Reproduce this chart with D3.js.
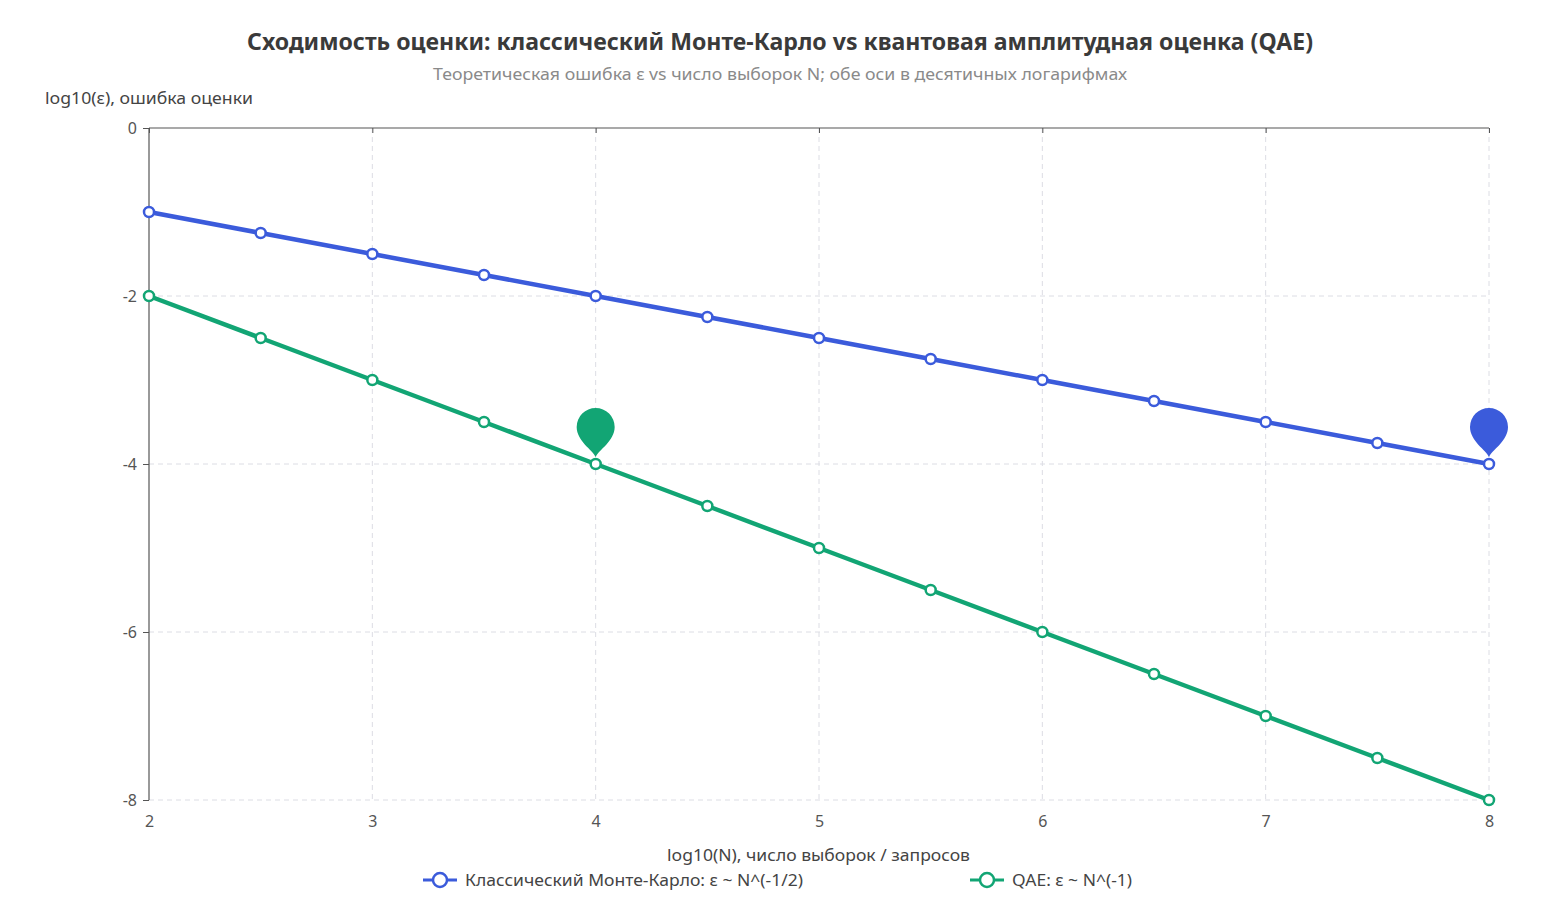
<!DOCTYPE html>
<html><head><meta charset="utf-8">
<script src="https://cdn.jsdelivr.net/npm/d3@7/dist/d3.min.js"></script>
<style>
html,body{margin:0;padding:0;background:#fff;}
svg{display:block;font-family:"Noto Sans","Open Sans",sans-serif;}
</style></head>
<body>
<svg id="chart" width="1560" height="907"></svg>
<script>
const xValues = [2, 2.5, 3, 3.5, 4, 4.5, 5, 5.5, 6, 6.5, 7, 7.5, 8];
const mcValues = [-1, -1.25, -1.5, -1.75, -2, -2.25, -2.5, -2.75, -3, -3.25, -3.5, -3.75, -4];
const qaeValues = [-2, -2.5, -3, -3.5, -4, -4.5, -5, -5.5, -6, -6.5, -7, -7.5, -8];
const xTicks = [2, 3, 4, 5, 6, 7, 8];
const yTicks = [0, -2, -4, -6, -8];
const seriesNames = ["Классический Монте-Карло: ε ~ N^(-1/2)", "QAE: ε ~ N^(-1)"];
const pinPoints = [{series: 1, x: 4, y: -4}, {series: 0, x: 8, y: -4}];
const titleText = "Сходимость оценки: классический Монте-Карло vs квантовая амплитудная оценка (QAE)";
const subtitleText = "Теоретическая ошибка ε vs число выборок N; обе оси в десятичных логарифмах";
const yName = "log10(ε), ошибка оценки";
const xName = "log10(N), число выборок / запросов";

const colors = ["#3b5bdb", "#12a574"];
const svg = d3.select("#chart");
const x = d3.scaleLinear().domain([2, 8]).range([149, 1489]);
const y = d3.scaleLinear().domain([-8, 0]).range([800, 128]);

function fitText(sel, w) {
  sel.attr("textLength", w).attr("lengthAdjust", "spacingAndGlyphs");
}

fitText(svg.append("text").attr("x", 780).attr("y", 50).attr("text-anchor", "middle")
  .attr("font-size", 23).attr("font-weight", "bold").attr("fill", "#3a3a3a").text(titleText), 1066);
fitText(svg.append("text").attr("x", 780).attr("y", 80).attr("text-anchor", "middle")
  .attr("font-size", 17).attr("fill", "#8a8a8a").text(subtitleText), 694);
fitText(svg.append("text").attr("x", 45).attr("y", 104)
  .attr("font-size", 17).attr("fill", "#444").text(yName), 208);
fitText(svg.append("text").attr("x", 818.5).attr("y", 861).attr("text-anchor", "middle")
  .attr("font-size", 17).attr("fill", "#444").text(xName), 303);

// grid
const grid = svg.append("g");
grid.selectAll("line.v").data(xTicks.filter(d => d !== 2)).join("line")
  .attr("x1", d => x(d)).attr("x2", d => x(d)).attr("y1", 128).attr("y2", 800)
  .attr("stroke", "#dcdde4").attr("stroke-dasharray", "5,4").attr("stroke-width", 1);
grid.selectAll("line.h").data(yTicks.filter(d => d !== 0)).join("line")
  .attr("y1", d => y(d)).attr("y2", d => y(d)).attr("x1", 149).attr("x2", 1489)
  .attr("stroke", "#dcdde4").attr("stroke-dasharray", "5,4").attr("stroke-width", 1);

// y axis
const yAxis = d3.axisLeft(y).tickValues(yTicks).tickSize(6).tickPadding(6).tickFormat(d3.format("d"));
const gy = svg.append("g").attr("transform", "translate(149,0)").call(yAxis);
gy.select(".domain").attr("stroke", "#555").attr("stroke-width", 1.2).attr("d", "M0,128V800");
gy.selectAll(".tick line").attr("stroke", "#555");
gy.selectAll(".tick text").attr("font-size", 16).attr("fill", "#555")
  .attr("font-family", "'Noto Sans','Open Sans',sans-serif").text(d => String(d).replace("−", "-"));

// top axis line (x axis on zero)
const xAxisTop = d3.axisBottom(x).tickValues(xTicks).tickSize(5).tickFormat("");
const gxt = svg.append("g").attr("transform", "translate(0," + y(0) + ")").call(xAxisTop);
gxt.select(".domain").attr("stroke", "#555").attr("stroke-width", 1.2).attr("d", "M149,0H1489");
gxt.selectAll(".tick line").attr("stroke", "#555");

// x labels at bottom
const xAxisBottom = d3.axisBottom(x).tickValues(xTicks).tickSize(0).tickPadding(16).tickFormat(d3.format("d"));
const gxb = svg.append("g").attr("transform", "translate(0,800)").call(xAxisBottom);
gxb.select(".domain").remove();
gxb.selectAll(".tick text").attr("font-size", 16).attr("fill", "#555")
  .attr("font-family", "'Noto Sans','Open Sans',sans-serif");

// series
const allSeries = [mcValues, qaeValues];
const line = d3.line().x(d => x(d[0])).y(d => y(d[1]));
allSeries.forEach((vals, i) => {
  const pts = xValues.map((xv, j) => [xv, vals[j]]);
  svg.append("path").datum(pts).attr("d", line).attr("fill", "none")
    .attr("stroke", colors[i]).attr("stroke-width", 4.5).attr("stroke-linejoin", "round");
  svg.append("g").selectAll("circle").data(pts).join("circle")
    .attr("cx", d => x(d[0])).attr("cy", d => y(d[1])).attr("r", 5)
    .attr("fill", "#fff").attr("stroke", colors[i]).attr("stroke-width", 2.5);
});

// pins
const pinPath = "M0,0 C-3,-7 -19,-16 -19,-30 A19,19 0 1 1 19,-30 C19,-16 3,-7 0,0 Z";
svg.append("g").selectAll("path").data(pinPoints).join("path")
  .attr("d", pinPath)
  .attr("transform", d => "translate(" + x(d.x) + "," + (y(d.y) - 7) + ")")
  .attr("fill", d => colors[d.series]);

// legend
const legendItems = [{x: 423, i: 0, w: 338}, {x: 970, i: 1, w: 120}];
const lg = svg.append("g");
legendItems.forEach(it => {
  const g = lg.append("g").attr("transform", "translate(" + it.x + ",880)");
  g.append("line").attr("x1", 0).attr("x2", 34).attr("y1", 0).attr("y2", 0)
    .attr("stroke", colors[it.i]).attr("stroke-width", 3);
  g.append("circle").attr("cx", 17).attr("cy", 0).attr("r", 7)
    .attr("fill", "#fff").attr("stroke", colors[it.i]).attr("stroke-width", 2.5);
  fitText(g.append("text").attr("x", 42).attr("y", 6).attr("font-size", 17).attr("fill", "#444")
    .text(seriesNames[it.i]), it.w);
});
</script>
</body></html>
